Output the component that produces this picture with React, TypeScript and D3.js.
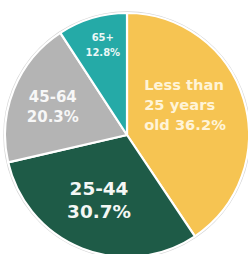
import React from "react";
import * as d3 from "d3";

// Age groups, slice shares as drawn in the picture, and printed labels
const categories = ["Less than 25 years old", "25-44", "45-64", "65+"];
const sliceShares = [40.6, 30.8, 19.4, 9.2];
const percentLabels = ["36.2%", "30.7%", "20.3%", "12.8%"];
const labelLines = [
  ["Less than", "25 years", "old 36.2%"],
  ["25-44", "30.7%"],
  ["45-64", "20.3%"],
  ["65+", "12.8%"],
];
const colors = ["#F6C452", "#1E5B47", "#B4B4B4", "#25AAA7"];
const textColors = ["#FFF4D8", "#F4F7F5", "#F7F7F7", "#EAF7F6"];

const W = 248;
const H = 254;
const cx = 127;
const cy = 135;
const R = 122;

// label layout (code constants, not data)
const fontSizes = [14.7, 18.4, 15, 10];
const lineGaps = [20, 23, 20, 15];
const anchors: ("start" | "middle")[] = ["start", "middle", "middle", "middle"];
const labelRadius = [66, 72, 80, 92];
const offsets = [
  [-46, -11],
  [-1.5, -2],
  [0, 1.3],
  [2, -1.6],
];

export default function App() {
  const pie = d3
    .pie<number>()
    .sort(null)
    .value((d) => d);
  const arcs = pie(sliceShares);
  const arc = d3.arc<d3.PieArcDatum<number>>().innerRadius(0).outerRadius(R);

  return (
    <svg
      width={W}
      height={H}
      style={{ position: "absolute", left: 0, top: 0, background: "#fff" }}
    >
      <circle cx={cx} cy={cy} r={R + 1} fill="none" stroke="#D6D6D6" strokeWidth={1.5} />
      <g transform={`translate(${cx},${cy})`}>
        {arcs.map((a, i) => (
          <path
            key={categories[i]}
            d={arc(a) || ""}
            fill={colors[i]}
            stroke="#fff"
            strokeWidth={2.2}
            strokeLinejoin="round"
          />
        ))}
        {arcs.map((a, i) => {
          const la = d3
            .arc<d3.PieArcDatum<number>>()
            .innerRadius(labelRadius[i])
            .outerRadius(labelRadius[i]);
          const [px, py] = la.centroid(a);
          const lines = labelLines[i];
          const n = lines.length;
          const x = px + offsets[i][0];
          const y0 = py + offsets[i][1] - ((n - 1) * lineGaps[i]) / 2 + fontSizes[i] * 0.36;
          return (
            <text
              key={"t" + i}
              x={x}
              textAnchor={anchors[i]}
              fill={textColors[i]}
              fontFamily="'DejaVu Sans', sans-serif"
              fontWeight={700}
              fontSize={fontSizes[i]}
            >
              {lines.map((l, j) => (
                <tspan key={j} x={x} y={y0 + j * lineGaps[i]}>
                  {l}
                </tspan>
              ))}
              <title>{percentLabels[i]}</title>
            </text>
          );
        })}
      </g>
    </svg>
  );
}
